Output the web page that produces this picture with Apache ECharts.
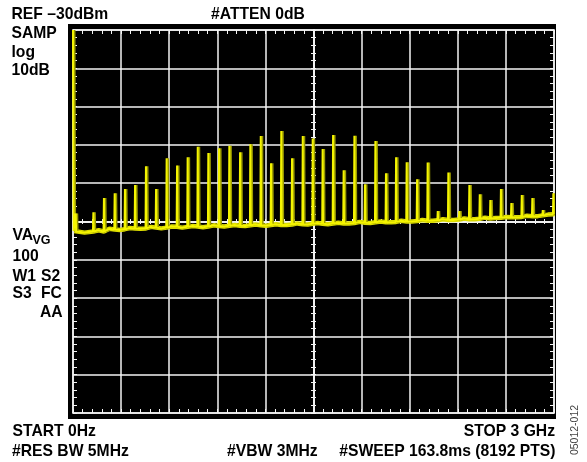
<!DOCTYPE html>
<html><head><meta charset="utf-8">
<script src="https://cdn.jsdelivr.net/npm/echarts@6/dist/echarts.min.js"></script>
<style>html,body{margin:0;padding:0;background:#fff}#c{width:587px;height:462px}</style>
</head><body><div id="c"></div>
<script>
// Frequency in MHz, level in dBm (REF -30 dBm, 10 dB/div)
const loFreq = [0, 4];
const loLevel = [-30, -82.5];

const spikeFreq = [17, 127, 193, 260, 324, 387, 455, 518, 584, 649, 715, 778, 844, 911, 975,
  1042, 1106, 1171, 1235, 1299, 1366, 1433, 1495, 1557, 1622, 1688, 1755, 1821, 1886, 1952,
  2015, 2081, 2146, 2212, 2275, 2341, 2409, 2472, 2537, 2603, 2669, 2734, 2799, 2865, 2930, 2996];
const spikePeak = [-77.9, -77.6, -73.9, -72.6, -71.5, -70.5, -65.6, -71.5, -63.5, -65.4,
  -63.2, -60.5, -62.1, -60.9, -60.2, -61.9, -59.8, -57.7, -64.8, -56.4,
  -63.5, -57.7, -58.3, -61.1, -57.4, -66.6, -57.6, -70.3, -59.0, -67.4,
  -63.2, -64.5, -69.0, -64.6, -77.3, -67.2, -77.3, -70.5, -72.9, -74.4,
  -71.5, -75.2, -73.1, -73.9, -77.0, -72.6];
const spikeBase = [-82.6, -82.6, -82.6, -82.1, -82.0, -81.8, -81.8, -81.6, -81.6, -81.4,
  -81.4, -81.3, -81.3, -81.2, -81.1, -81.1, -81.0, -81.0, -80.9, -80.9,
  -80.8, -80.7, -80.6, -80.6, -80.5, -80.5, -80.4, -80.3, -80.2, -80.2,
  -80.1, -80.0, -79.9, -79.8, -79.7, -79.6, -79.5, -79.4, -79.3, -79.2,
  -79.0, -78.9, -78.8, -78.6, -78.4, -78.1];

const floorFreq = [8, 72, 160, 227, 292, 355, 421, 487, 551, 617, 682, 747, 811, 878, 943,
  1009, 1074, 1139, 1203, 1267, 1333, 1400, 1464, 1526, 1590, 1655, 1722, 1788, 1854, 1919,
  1984, 2048, 2114, 2179, 2244, 2308, 2375, 2441, 2505, 2570, 2636, 2702, 2767, 2832, 2898, 2963, 3000];
const floorLevel = [-82.5, -82.9, -82.3, -81.9, -82.2, -81.7, -81.9, -81.4, -81.8, -81.3,
  -81.6, -81.2, -81.5, -81.0, -81.3, -80.9, -81.2, -80.8, -81.1, -80.7,
  -80.9, -80.5, -80.8, -80.4, -80.7, -80.3, -80.5, -80.1, -80.4, -80.0,
  -80.2, -79.8, -80.0, -79.6, -79.8, -79.4, -79.6, -79.2, -79.4, -79.0,
  -79.1, -78.8, -78.9, -78.5, -78.6, -78.2, -78.0];

const freqMin = 0, freqMax = 3000, freqStep = 300;
const levelMin = -130, levelMax = -30, levelStep = 10;

// build trace
const trace = [];
loFreq.forEach((f, i) => trace.push([f, loLevel[i]]));
floorFreq.forEach((f, i) => trace.push([f, floorLevel[i]]));
spikeFreq.forEach((f, i) => {
  trace.push([f - 2.5, spikeBase[i]]);
  trace.push([f, spikePeak[i]]);
  trace.push([f + 2.5, spikeBase[i]]);
});
trace.sort((a, b) => a[0] - b[0]);

const floor = [];
floorFreq.forEach((f, i) => floor.push([f, floorLevel[i]]));
spikeFreq.forEach((f, i) => floor.push([f, spikeBase[i]]));
floor.sort((a, b) => a[0] - b[0]);

const W = '#f4f4f4';
const FONT = 'bold 15.7px "Liberation Sans", Arial, sans-serif';

function xAx(pos, offset, inside, split, len) {
  return {
    type: 'value', min: freqMin, max: freqMax, interval: freqStep, position: pos, offset: offset,
    axisLine: { show: true, lineStyle: { color: W, width: 1.5 } },
    axisTick: { show: true, inside: inside, length: len, lineStyle: { color: W, width: 1 } },
    minorTick: { show: true, splitNumber: 5, length: len, lineStyle: { color: W, width: 1 } },
    axisLabel: { show: false },
    splitLine: { show: split, lineStyle: { color: W, width: 1.5 } },
    minorSplitLine: { show: false }
  };
}
function yAx(pos, offset, inside, split, len) {
  return {
    type: 'value', min: levelMin, max: levelMax, interval: levelStep, position: pos, offset: offset,
    axisLine: { show: true, onZero: false, lineStyle: { color: W, width: 1.5 } },
    axisTick: { show: true, inside: inside, length: len, lineStyle: { color: W, width: 1 } },
    minorTick: { show: true, splitNumber: 5, length: len, lineStyle: { color: W, width: 1 } },
    axisLabel: { show: false },
    splitLine: { show: split, lineStyle: { color: W, width: 1.5 } },
    minorSplitLine: { show: false }
  };
}

function txt(text, x, y, opts) {
  opts = opts || {};
  return {
    type: 'text', x: x, y: y, rotation: opts.rotation || 0, z: 10,
    style: {
      text: text, font: opts.font || FONT, fill: opts.fill || '#000',
      align: opts.align || 'left', verticalAlign: 'middle'
    }
  };
}

const chart = echarts.init(document.getElementById('c'), null, { renderer: 'canvas' });
chart.setOption({
  animation: false,
  backgroundColor: '#fff',
  grid: { left: 73, top: 30, width: 481, height: 383, show: true, backgroundColor: '#000',
          borderWidth: 0, outerBoundsMode: 'none', containLabel: false },
  xAxis: [
    xAx('bottom', 0, true, true, 4),
    xAx('top', 0, true, false, 4),
    xAx('bottom', -191.5, true, false, 2.5),
    xAx('bottom', -191.5, false, false, 2.5)
  ],
  yAxis: [
    yAx('left', 0, true, true, 4),
    yAx('right', 0, true, false, 4),
    yAx('left', -240.5, true, false, 2.5),
    yAx('left', -240.5, false, false, 2.5)
  ],
  series: [
    { type: 'line', data: floor, showSymbol: false, symbol: 'none', clip: true, z: 3,
      lineStyle: { color: '#dede00', width: 4.5, join: 'bevel' } },
    { type: 'line', data: trace, showSymbol: false, symbol: 'none', clip: true, z: 4,
      lineStyle: { color: '#f4f400', width: 2, join: 'bevel',
                   shadowColor: '#9a9a00', shadowBlur: 0, shadowOffsetX: 1.5, shadowOffsetY: 0 } }
  ],
  graphic: [
    { type: 'rect', shape: { x: 68, y: 24, width: 488, height: 395 }, style: { fill: '#000' }, z: -10, silent: true },
    txt('REF \u201330dBm', 11.5, 15),
    txt('#ATTEN 0dB', 211, 15),
    txt('SAMP', 11.5, 34),
    txt('log', 11.5, 52.5),
    txt('10dB', 11.5, 71),
    txt('VA', 12.5, 235.5),
    txt('VG', 32.5, 241, { font: 'bold 12.5px "Liberation Sans", Arial, sans-serif' }),
    txt('100', 12.5, 257),
    txt('W1', 12.5, 276.5),
    txt('S2', 41, 276.5),
    txt('S3', 12.5, 293.5),
    txt('FC', 41, 293.5),
    txt('AA', 40, 312.5),
    txt('START 0Hz', 12.5, 431.5),
    txt('#RES BW 5MHz', 12, 451.5),
    txt('#VBW 3MHz', 227, 451.5),
    txt('STOP 3 GHz', 555, 431.5, { align: 'right' }),
    txt('#SWEEP 163.8ms (8192 PTS)', 555.5, 451.5, { align: 'right' }),
    txt('05012-012', 575, 430, { align: 'center', rotation: Math.PI / 2,
      font: '10.5px "Liberation Sans", Arial, sans-serif', fill: '#444' })
  ]
});
</script>
</body></html>
